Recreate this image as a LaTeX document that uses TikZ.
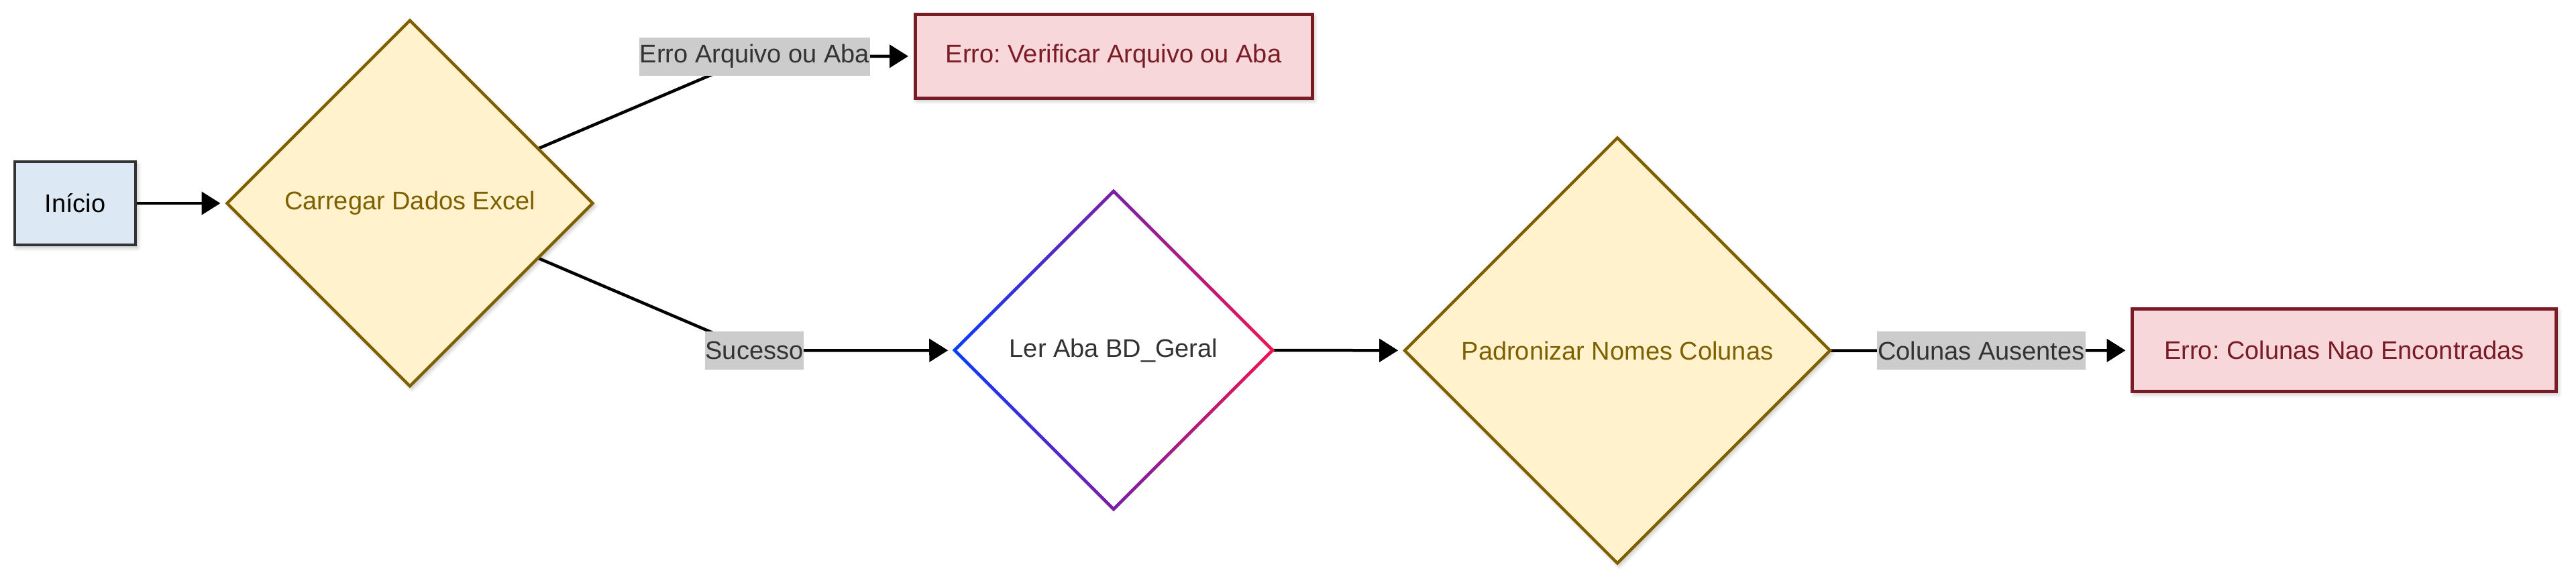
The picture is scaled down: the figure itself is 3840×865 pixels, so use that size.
\documentclass[tikz,border=0pt]{standalone}
\usepackage{fontspec}
\setmainfont{Liberation Sans}
\frenchspacing
\usetikzlibrary{shapes.geometric,arrows.meta,shadows.blur,backgrounds}
\definecolor{startfill}{HTML}{DCE9F5}
\definecolor{startdraw}{HTML}{333333}
\definecolor{decfill}{HTML}{FFF2CC}
\definecolor{decdraw}{HTML}{7F6000}
\definecolor{errfill}{HTML}{F8D7DA}
\definecolor{errdraw}{HTML}{7A1C26}
\definecolor{lblfill}{HTML}{CCCCCC}
\definecolor{lbltext}{HTML}{333333}
\definecolor{gblue}{HTML}{0A3CFF}
\definecolor{gpurple}{HTML}{7A1FA8}
\definecolor{gred}{HTML}{EE1650}
\begin{document}
\begin{tikzpicture}[x=1pt,y=-1pt,
  every node/.style={font=\fontsize{38pt}{46pt}\selectfont, outer sep=0pt},
  softshadow/.style={blur shadow={shadow blur steps=6, shadow xshift=3pt, shadow yshift=-4pt, shadow blur radius=6pt, shadow opacity=25}},
  startbox/.style={rectangle, draw=startdraw, fill=startfill, line width=4.5pt,
    minimum width=180pt, minimum height=124pt, inner sep=0pt, text=black, softshadow},
  errbox/.style={rectangle, draw=errdraw, fill=errfill, line width=5pt,
    minimum height=124pt, inner sep=0pt, text=errdraw, softshadow},
  decbox/.style={diamond, aspect=1, draw=decdraw, fill=decfill, line width=4.5pt,
    inner sep=0pt, text=decdraw, softshadow},
  readbox/.style={diamond, aspect=1, fill=white, draw=none, inner sep=0pt, text=lbltext},
  lbl/.style={rectangle, fill=lblfill, text=lbltext, inner xsep=1pt, inner ysep=0pt, minimum height=57pt},
  edgeline/.style={line width=4.5pt, black},
  arr/.style={edgeline, -{Triangle[length=28pt,width=34pt]}, shorten >=10pt}
]
\useasboundingbox (0,0) rectangle (3840,865);

\node[startbox] (start) at (112,303) {Início};
\node[decbox, minimum width=545pt, minimum height=545pt] (d1) at (611,303) {Carregar Dados Excel};
\node[lbl] (lab1) at (1125,84) {Erro Arquivo ou Aba};
\node[errbox, minimum width=592pt, minimum height=125pt] (err1) at (1660,83.5) {Erro: Verificar Arquivo ou Aba};
\node[lbl] (lab2) at (1124.5,522.5) {Sucesso};
\node[readbox, minimum width=474pt, minimum height=474pt] (d2) at (1660,522) {Ler Aba BD\_Geral};
\shade[left color=gblue, right color=gred, middle color=gpurple, even odd rule]
  ([yshift=3.4pt]d2.north) -- ([xshift=3.4pt]d2.east) -- ([yshift=-3.4pt]d2.south) -- ([xshift=-3.4pt]d2.west) -- cycle
  ([yshift=-3.4pt]d2.north) -- ([xshift=-3.4pt]d2.east) -- ([yshift=3.4pt]d2.south) -- ([xshift=3.4pt]d2.west) -- cycle;
\node[decbox, minimum width=634pt, minimum height=634pt] (d3) at (2411,522.5) {Padronizar Nomes Colunas};
\node[lbl] (lab3) at (2953.5,522.5) {Colunas Ausentes};
\node[errbox, minimum width=632pt, minimum height=123pt] (err2) at (3494.5,522) {Erro: Colunas Nao Encontradas};

\begin{pgfonlayer}{background}
\draw[arr] (start) -- (d1);
\draw[arr] (d1) -- (lab1.center) -- (err1);
\draw[arr] (d1) -- (lab2.center) -- (d2);
\draw[arr] (d2) -- (d3);
\draw[arr] (d3) -- (lab3.center) -- (err2);
\end{pgfonlayer}
\end{tikzpicture}
\end{document}
